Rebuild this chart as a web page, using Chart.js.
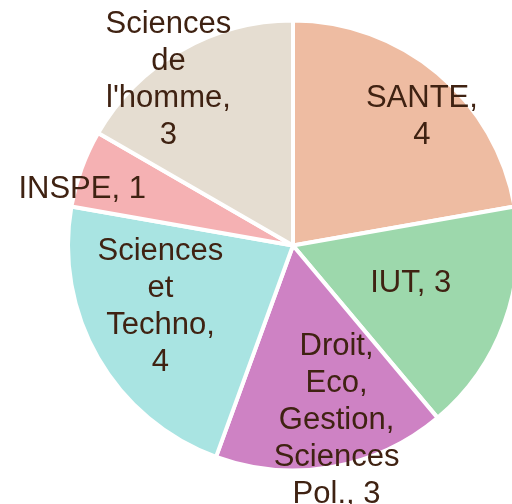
<!DOCTYPE html>
<html>
<head>
<meta charset="utf-8">
<script src="https://cdn.jsdelivr.net/npm/chart.js@4/dist/chart.umd.min.js"></script>
<style>
  html, body { margin: 0; padding: 0; background: #fff; overflow: hidden; }
  #wrap { width: 512px; height: 504px; overflow: hidden; }
</style>
</head>
<body>
<div id="wrap"><canvas id="pie" width="586" height="504"></canvas></div>
<script>
const categories = ['SANTE', 'IUT', 'Droit, Eco, Gestion, Sciences Pol.', 'Sciences et Techno', 'INSPE', "Sciences de l'homme"];
const counts = [4, 3, 3, 4, 1, 3];
const sliceColors = ['#eebca2', '#9dd8ac', '#ce82c4', '#a9e4e2', '#f5b1b3', '#e5ddd1'];

// where each label sits: fraction of the radius and small angle nudge (degrees)
const labelRadius = [0.81, 0.55, 0.80, 0.65, 0.97, 0.92];
const labelTurn = [5, -2, -4, 5, -5, -7];

function wrapWords(ctx, text, maxW) {
    const words = text.split(' ');
    const lines = [];
    let cur = '';
    words.forEach((w) => {
        const test = cur ? cur + ' ' + w : w;
        if (cur && ctx.measureText(test).width > maxW) {
            lines.push(cur);
            cur = w;
        } else cur = test;
    });
    if (cur) lines.push(cur);
    return lines;
}

const sliceLabels = {
    id: 'sliceLabels',
    afterDatasetsDraw(chart) {
        const ctx = chart.ctx;
        const meta = chart.getDatasetMeta(0);
        ctx.save();
        ctx.font = '31px "Liberation Sans", Arial, sans-serif';
        ctx.fillStyle = '#3f2212';
        ctx.textAlign = 'center';
        ctx.textBaseline = 'middle';
        const lh = 37;
        meta.data.forEach((arc, i) => {
            const { x, y, startAngle, endAngle, outerRadius } = arc.getProps(['x', 'y', 'startAngle', 'endAngle', 'outerRadius'], true);
            const mid = (startAngle + endAngle) / 2 + labelTurn[i] * Math.PI / 180;
            const r = outerRadius * labelRadius[i];
            const cx = x + Math.cos(mid) * r;
            const cy = y + Math.sin(mid) * r;
            const lines = wrapWords(ctx, categories[i] + ', ' + counts[i], 132);
            const top = cy - (lines.length - 1) * lh / 2;
            lines.forEach((ln, k) => ctx.fillText(ln, cx, top + k * lh));
        });
        ctx.restore();
    }
};

new Chart(document.getElementById('pie'), {
    type: 'pie',
    data: {
        labels: categories,
        datasets: [{
            data: counts,
            backgroundColor: sliceColors,
            borderColor: '#ffffff',
            borderWidth: 4,
            hoverOffset: 0
        }]
    },
    options: {
        responsive: false,
        animation: false,
        radius: 225,
        layout: { padding: { bottom: 13 } },
        plugins: {
            legend: { display: false },
            tooltip: { enabled: false }
        }
    },
    plugins: [sliceLabels]
});
</script>
</body>
</html>
